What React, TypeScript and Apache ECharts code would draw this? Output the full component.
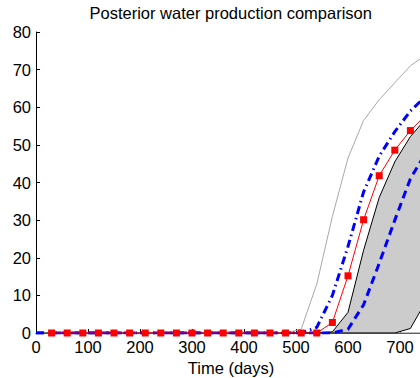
import React, { useEffect, useRef } from "react";
import * as echarts from "echarts";

// Time axis (days), one sample every 30 days
const days = [
  0, 30, 60, 90, 120, 150, 180, 210, 240, 270, 300, 330, 360, 390, 420, 450,
  480, 510, 540, 570, 600, 630, 660, 690, 720, 750,
];

// Ensemble envelope (thin grey lines)
const ensembleMax = [
  0, 0, 0, 0, 0, 0, 0, 0, 0, 0, 0, 0, 0, 0, 0, 0, 0, 1, 13, 31, 46.5, 56.5, 62,
  66.5, 71, 74,
];
const ensembleMin = [
  0, 0, 0, 0, 0, 0, 0, 0, 0, 0, 0, 0, 0, 0, 0, 0, 0, 0, 0, 0, 0, 0, 0, 0, 0, 0,
];

// Shaded confidence band (black boundaries)
const bandUpper = [
  0, 0, 0, 0, 0, 0, 0, 0, 0, 0, 0, 0, 0, 0, 0, 0, 0, 0, 0, 0.3, 5.5, 22, 36,
  45.5, 52.2, 57,
];
const bandLower = [
  0, 0, 0, 0, 0, 0, 0, 0, 0, 0, 0, 0, 0, 0, 0, 0, 0, 0, 0, 0, 0, 0, 0, 0, 1.2,
  8.5,
];

// Observed water production (red squares)
const observed = [
  0, 0, 0, 0, 0, 0, 0, 0, 0, 0, 0, 0, 0, 0, 0, 0, 0, 0, 0, 2.8, 15.2, 30.1,
  41.8, 48.6, 53.8, 58,
];

// Posterior estimates (thick blue)
const posteriorA = [
  0, 0, 0, 0, 0, 0, 0, 0, 0, 0, 0, 0, 0, 0, 0, 0, 0, 0, 1.5, 10, 23, 37.5, 47,
  53.5, 59, 63,
];
const posteriorB = [
  0, 0, 0, 0, 0, 0, 0, 0, 0, 0, 0, 0, 0, 0, 0, 0, 0, 0, 0, 0, 1, 7.5, 18.5, 30,
  41, 48,
];

const xTicks = [0, 100, 200, 300, 400, 500, 600, 700];
const yTicks = [0, 10, 20, 30, 40, 50, 60, 70, 80];

const FONT = "Liberation Sans, Arial, Helvetica, sans-serif";

const pairs = (vals: number[]) => days.map((d, i) => [d, vals[i]]);

export default function App() {
  const ref = useRef<HTMLDivElement>(null);

  useEffect(() => {
    if (!ref.current) return;
    const chart = echarts.init(ref.current, undefined, { renderer: "svg" });

    chart.setOption({
      animation: false,
      backgroundColor: "#ffffff",
      textStyle: { fontFamily: FONT },
      graphic: [
        {
          type: "text",
          x: 230.7,
          y: 4,
          style: {
            text: "Posterior water production comparison",
            fontSize: 16.5,
            fontFamily: FONT,
            fill: "#000",
            align: "center",
            verticalAlign: "top",
          },
        },
      ],
      grid: {
        left: 36,
        right: 14,
        top: 32,
        bottom: 45,
        containLabel: false,
        outerBoundsMode: "none",
      },
      xAxis: {
        type: "value",
        min: xTicks[0],
        max: 750,
        interval: 100,
        name: "Time (days)",
        nameLocation: "middle",
        nameGap: 21,
        nameTextStyle: { fontSize: 16.5, color: "#000", fontFamily: FONT },
        axisLine: { show: true, lineStyle: { color: "#000", width: 1 } },
        axisTick: { show: true, inside: true, length: 4, lineStyle: { color: "#000" } },
        axisLabel: {
          color: "#000",
          fontSize: 16.5,
          fontFamily: FONT,
          margin: 5,
          showMaxLabel: false,
          formatter: (v: number) => (xTicks.includes(v) ? String(v) : ""),
        },
        splitLine: { show: false },
      },
      yAxis: {
        type: "value",
        min: yTicks[0],
        max: yTicks[yTicks.length - 1],
        interval: 10,
        axisLine: { show: true, lineStyle: { color: "#000", width: 1 } },
        axisTick: { show: true, inside: true, length: 4, lineStyle: { color: "#000" } },
        axisLabel: { color: "#000", fontSize: 16.5, fontFamily: FONT, margin: 5 },
        splitLine: { show: false },
      },
      series: [
        {
          // grey band filled between the lower and upper bounds
          name: "band-fill",
          type: "custom",
          data: [0],
          clip: true,
          z: 1,
          renderItem: (_params: any, api: any) => {
            const top = days.map((d, i) => api.coord([d, bandUpper[i]]));
            const bottom = days
              .map((d, i) => api.coord([d, bandLower[i]]))
              .reverse();
            return {
              type: "polygon",
              shape: { points: top.concat(bottom) },
              style: { fill: "#cccccc", stroke: "none" },
            };
          },
        },
        {
          name: "ensemble-min",
          type: "line",
          data: pairs(ensembleMin),
          symbol: "none",
          lineStyle: { color: "#a8a8a8", width: 1.5 },
          z: 2,
        },
        {
          name: "band-lower",
          type: "line",
          data: pairs(bandLower),
          symbol: "none",
          lineStyle: { color: "#000", width: 1 },
          z: 3,
        },
        {
          name: "band-upper",
          type: "line",
          data: pairs(bandUpper),
          symbol: "none",
          lineStyle: { color: "#000", width: 1 },
          z: 3,
        },
        {
          name: "ensemble-max",
          type: "line",
          data: pairs(ensembleMax),
          symbol: "none",
          lineStyle: { color: "#a8a8a8", width: 1 },
          z: 3,
        },
        {
          name: "posterior-dashed",
          type: "line",
          data: pairs(posteriorB),
          symbol: "none",
          lineStyle: { color: "#0000ff", width: 3, type: [8, 5] },
          z: 4,
        },
        {
          name: "posterior-dashdot",
          type: "line",
          data: pairs(posteriorA),
          symbol: "none",
          lineStyle: { color: "#0000ff", width: 3, type: [8, 4, 1.5, 4] },
          z: 4,
        },
        {
          name: "observed",
          type: "line",
          data: pairs(observed).slice(1),
          symbol: "rect",
          symbolSize: 7,
          itemStyle: { color: "#ff0000" },
          lineStyle: { color: "#ff0000", width: 1 },
          z: 5,
        },
      ],
    });

    return () => chart.dispose();
  }, []);

  return (
    <div
      style={{
        position: "fixed",
        left: 0,
        top: 0,
        width: 420,
        height: 378,
        overflow: "hidden",
        background: "#fff",
      }}
    >
      <div ref={ref} style={{ width: 440, height: 378 }} />
    </div>
  );
}
